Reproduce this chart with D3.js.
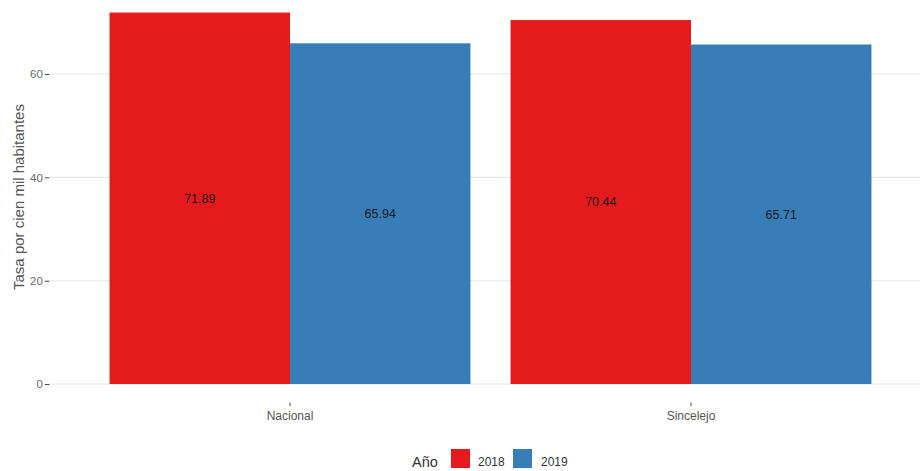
<!DOCTYPE html>
<html>
<head>
<meta charset="utf-8">
<script src="https://cdn.jsdelivr.net/npm/d3@7"></script>
<style>
  html, body { margin: 0; padding: 0; background: #fff; }
  svg { display: block; font-family: "Liberation Sans", Arial, sans-serif; }
</style>
</head>
<body>
<svg id="chart" width="920" height="471"></svg>
<script>
// ---- data ----
const categories = ["Nacional", "Sincelejo"];
const years = ["2018", "2019"];
const values2018 = [71.89, 70.44];
const values2019 = [65.94, 65.71];
const yTicks = [0, 20, 40, 60];
const colors = ["#E41A1C", "#377EB8"];

const data = categories.map((c, i) => ({
  cat: c,
  vals: [
    { year: years[0], v: values2018[i] },
    { year: years[1], v: values2019[i] }
  ]
}));

const svg = d3.select("#chart");
const W = 920, H = 471;
const panelLeft = 49.4, panelRight = 931.6;
const panelTop = -6, panelBottom = 402.6;

const x = d3.scaleBand().domain(categories)
  .range([panelLeft, panelRight]).paddingInner(0.1).paddingOuter(0.15);
const xi = d3.scaleBand().domain(years).range([0, x.bandwidth()]).padding(0);
const y = d3.scaleLinear().domain([-3.5945, 75.4845]).range([panelBottom, panelTop]);
const color = d3.scaleOrdinal().domain(years).range(colors);

// gridlines
svg.append("g").selectAll("line").data(yTicks).join("line")
  .attr("x1", panelLeft).attr("x2", W)
  .attr("y1", d => y(d)).attr("y2", d => y(d))
  .attr("stroke", "#e6e6e6").attr("stroke-width", 1.1);

// bars
const groups = svg.append("g").selectAll("g").data(data).join("g")
  .attr("transform", d => `translate(${x(d.cat)},0)`);
groups.selectAll("rect").data(d => d.vals).join("rect")
  .attr("x", d => xi(d.year))
  .attr("width", xi.bandwidth())
  .attr("y", d => y(d.v))
  .attr("height", d => y(0) - y(d.v))
  .attr("fill", d => color(d.year));
groups.selectAll("text").data(d => d.vals).join("text")
  .attr("x", d => xi(d.year) + xi.bandwidth() / 2)
  .attr("y", d => y(d.v / 2))
  .attr("dy", "0.35em")
  .attr("text-anchor", "middle")
  .attr("font-size", 12.5)
  .attr("fill", "#1a1a1a")
  .text(d => d.v.toFixed(2));

// y axis
const yAxis = d3.axisLeft(y).tickValues(yTicks).tickSize(4.5).tickPadding(2);
const gy = svg.append("g").attr("transform", `translate(${panelLeft},0)`).call(yAxis);
gy.select(".domain").remove();
gy.selectAll(".tick line").attr("stroke", "#444");
gy.selectAll(".tick text").attr("fill", "#6a6a6a").attr("font-size", 11.5)
  .attr("font-family", "Liberation Sans Narrow, Liberation Sans, Arial");

// x axis
const xAxis = d3.axisBottom(x).tickSize(3.5).tickPadding(5);
const gx = svg.append("g").attr("transform", `translate(0,${panelBottom})`).call(xAxis);
gx.select(".domain").remove();
gx.selectAll(".tick line").attr("stroke", "#444");
gx.selectAll(".tick text").attr("fill", "#555").attr("font-size", 12)
  .attr("font-family", "Liberation Sans Narrow, Liberation Sans, Arial");

// y title
svg.append("text")
  .attr("transform", "translate(24,197) rotate(-90)")
  .attr("text-anchor", "middle")
  .attr("font-size", 15)
  .attr("fill", "#555")
  .text("Tasa por cien mil habitantes");

// legend
const lg = svg.append("g");
lg.append("text").attr("x", 412).attr("y", 467).attr("font-size", 14.5)
  .attr("fill", "#333").text("Año");
const keyX = [451, 513];
const labX = [478, 541];
years.forEach((yr, i) => {
  lg.append("rect").attr("x", keyX[i]).attr("y", 449).attr("width", 19).attr("height", 19)
    .attr("fill", color(yr));
  lg.append("text").attr("x", labX[i]).attr("y", 466).attr("font-size", 12)
    .attr("font-family", "Liberation Sans Narrow, Liberation Sans, Arial")
    .attr("fill", "#333").text(yr);
});
</script>
</body>
</html>
